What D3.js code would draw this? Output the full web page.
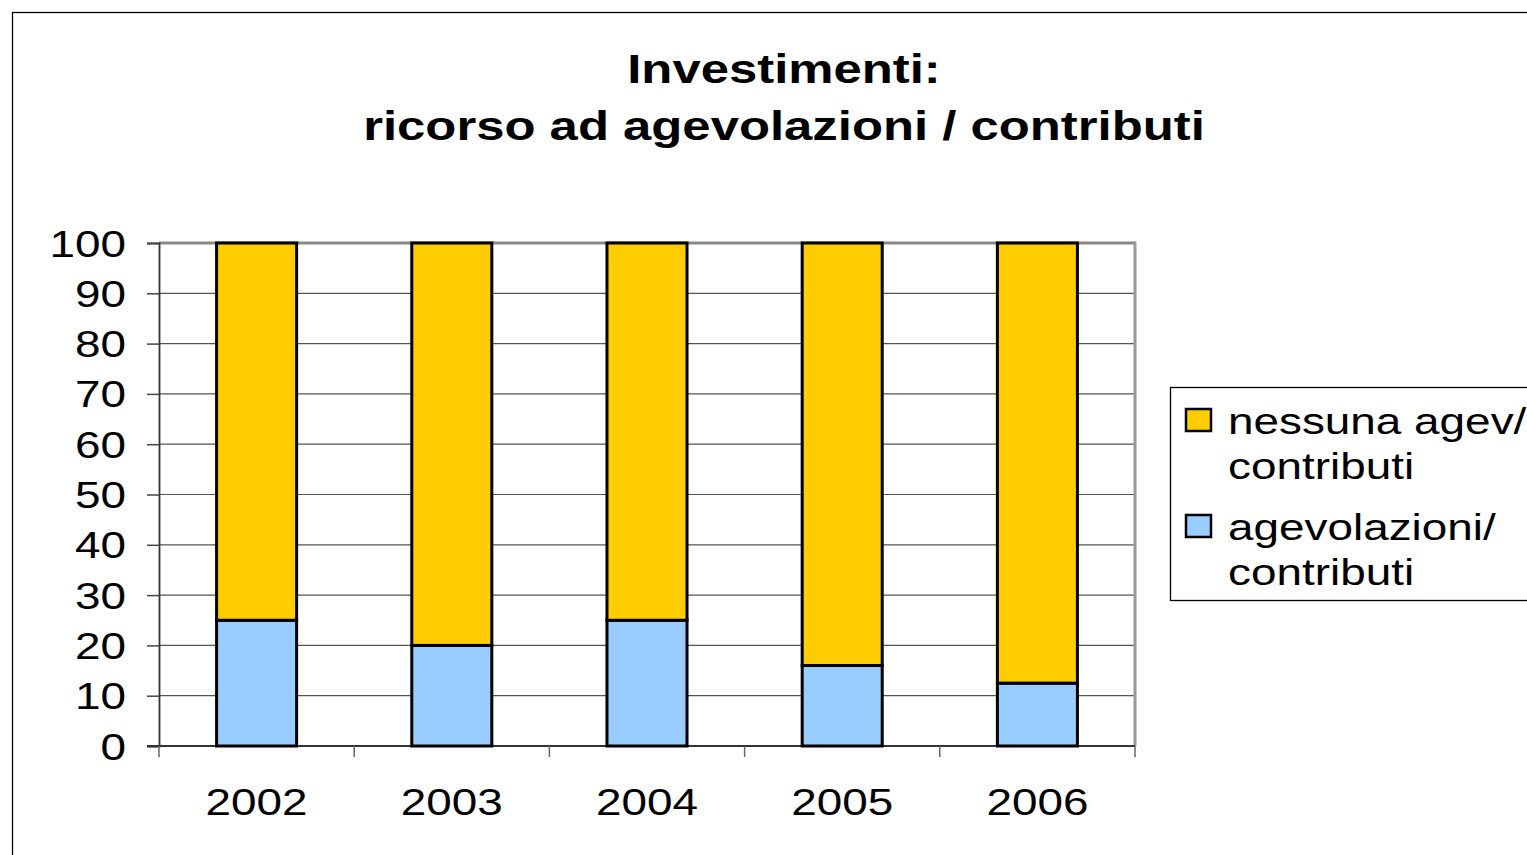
<!DOCTYPE html>
<html>
<head>
<meta charset="utf-8">
<script src="https://cdn.jsdelivr.net/npm/d3@7"></script>
<style>
  html, body { margin: 0; padding: 0; background: #fff; }
  svg { display: block; font-family: "Liberation Sans", Arial, sans-serif; }
</style>
</head>
<body>
<div id="chart"></div>
<script>
// Stacked percentage bars — agevolazioni vs nessuna agevolazione per anno

const years = ['2002', '2003', '2004', '2005', '2006'];
const agevolazioni = [25, 20, 25, 16, 12.5];
const nessuna = [75, 80, 75, 84, 87.5];
const yTicks = [0, 10, 20, 30, 40, 50, 60, 70, 80, 90, 100];
const titleLines = ['Investimenti:', 'ricorso ad agevolazioni / contributi'];

const COLORS = { agev: '#99CCFF', nessuna: '#FFCC00' };
const W = 1527, H = 855;
const SX = 1.24; // text in the original is stretched horizontally

const svg = d3.select('#chart').append('svg')
  .attr('width', W).attr('height', H);

// outer chart frame (runs off the right / bottom edge)
svg.append('rect')
  .attr('x', 12.5).attr('y', 12.5)
  .attr('width', W).attr('height', H)
  .attr('fill', '#fff').attr('stroke', '#000').attr('stroke-width', 1.3);

// Title
svg.selectAll('.title')
  .data(titleLines)
  .join('text')
  .attr('class', 'title')
  .attr('transform', (d, i) => `translate(784,${83 + i * 57}) scale(${SX},1)`)
  .attr('text-anchor', 'middle')
  .style('font-weight', 'bold')
  .style('font-size', '41px')
  .text(d => d);

const plot = { left: 159, right: 1135, top: 243, bottom: 746 };

const x = d3.scaleBand()
  .domain(years)
  .range([plot.left, plot.right])
  .paddingInner(0.59)
  .paddingOuter(0.295);

const xOuter = d3.scaleBand().domain(years).range([plot.left, plot.right]);

const y = d3.scaleLinear().domain([0, 100]).range([plot.bottom, plot.top]);

// gridlines
svg.append('g')
  .selectAll('line')
  .data(yTicks.filter(t => t > 0))
  .join('line')
  .attr('x1', plot.left).attr('x2', plot.right)
  .attr('y1', d => y(d)).attr('y2', d => y(d))
  .attr('stroke', d => d === 100 ? '#888' : '#555')
  .attr('stroke-width', d => d === 100 ? 3 : 1.2);

// right border of plot area
svg.append('line')
  .attr('x1', plot.right).attr('x2', plot.right)
  .attr('y1', plot.top - 1.5).attr('y2', plot.bottom)
  .attr('stroke', '#999').attr('stroke-width', 3);

// y axis
const yAxis = svg.append('g')
  .attr('transform', `translate(${plot.left},0)`)
  .call(d3.axisLeft(y).tickValues(yTicks).tickSize(12).tickFormat(d3.format('d')));
yAxis.select('.domain').attr('stroke', '#333').attr('stroke-width', 1.8);
yAxis.selectAll('.tick line').attr('stroke', '#444').attr('stroke-width', 1.5);
yAxis.selectAll('.tick text')
  .attr('x', null).attr('dy', null)
  .attr('transform', `translate(-33,13) scale(${SX},1)`)
  .attr('fill', '#000')
  .style('font-size', '37px')
  .style('font-family', '"Liberation Sans", Arial, sans-serif');

// x axis — ticks sit between categories
const xAxisG = svg.append('g').attr('transform', `translate(0,${plot.bottom})`);
xAxisG.append('line')
  .attr('x1', plot.left - 12).attr('x2', plot.right)
  .attr('stroke', '#333').attr('stroke-width', 1.8);
xAxisG.selectAll('.xtick')
  .data(years.concat(['end']))
  .join('line')
  .attr('class', 'xtick')
  .attr('x1', (d, i) => i < years.length ? xOuter(d) : plot.right)
  .attr('x2', (d, i) => i < years.length ? xOuter(d) : plot.right)
  .attr('y1', 0).attr('y2', 11)
  .attr('stroke', '#666').attr('stroke-width', 1.5);
xAxisG.selectAll('.xlabel')
  .data(years)
  .join('text')
  .attr('class', 'xlabel')
  .attr('transform', d => `translate(${xOuter(d) + xOuter.bandwidth() / 2},69) scale(${SX},1)`)
  .attr('text-anchor', 'middle')
  .style('font-size', '37px')
  .text(d => d);

// stacked bars
const rows = years.map((yr, i) => ({ year: yr, agev: agevolazioni[i], nessuna: nessuna[i] }));
const stack = d3.stack().keys(['agev', 'nessuna'])(rows);

svg.append('g')
  .selectAll('g')
  .data(stack)
  .join('g')
  .attr('fill', d => COLORS[d.key])
  .selectAll('rect')
  .data(d => d)
  .join('rect')
  .attr('x', d => x(d.data.year))
  .attr('width', x.bandwidth())
  .attr('y', d => y(d[1]))
  .attr('height', d => y(d[0]) - y(d[1]))
  .attr('stroke', '#000')
  .attr('stroke-width', 3);

// legend
const legend = svg.append('g');
legend.append('rect')
  .attr('x', 1170.5).attr('y', 387.5)
  .attr('width', 400).attr('height', 213)
  .attr('fill', '#fff').attr('stroke', '#000').attr('stroke-width', 1.3);

const legendItems = [
  { color: COLORS.nessuna, lines: ['nessuna agev/', 'contributi'] },
  { color: COLORS.agev, lines: ['agevolazioni/', 'contributi'] }
];
const li = legend.selectAll('.li')
  .data(legendItems)
  .join('g')
  .attr('class', 'li')
  .attr('transform', (d, i) => `translate(1186,${409 + i * 106})`);
li.append('rect')
  .attr('width', 25).attr('height', 22)
  .attr('fill', d => d.color)
  .attr('stroke', '#000').attr('stroke-width', 2.5);
li.selectAll('text')
  .data(d => d.lines)
  .join('text')
  .attr('transform', (d, i) => `translate(42,${25 + i * 45}) scale(${SX},1)`)
  .style('font-size', '37px')
  .text(d => d);
</script>
</body>
</html>
